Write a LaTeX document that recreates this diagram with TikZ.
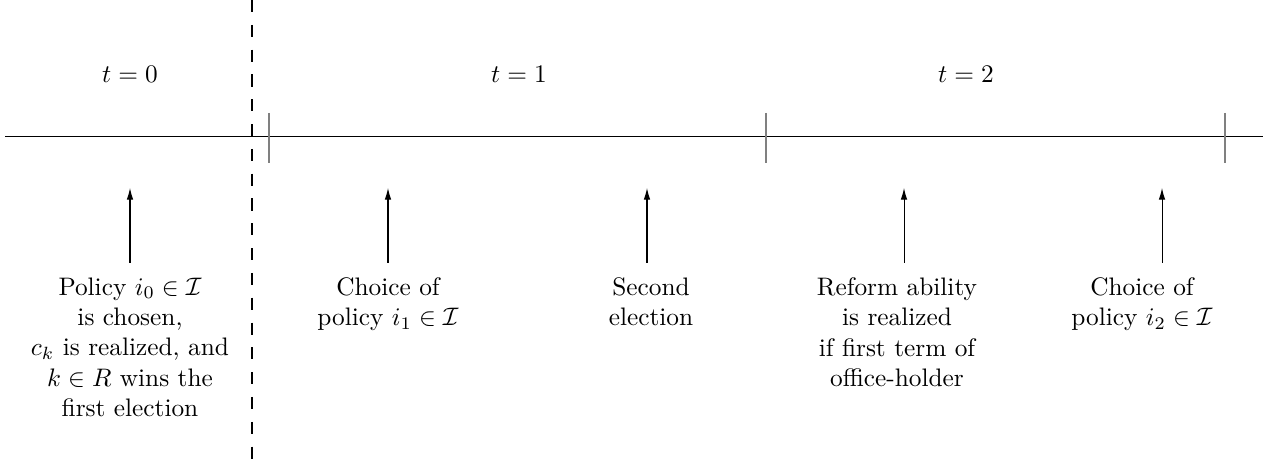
\documentclass[tikz,border=0pt]{standalone}
\usetikzlibrary{arrows.meta}
\begin{document}
\begin{tikzpicture}[x=0.395pt,y=-0.395pt,
  axis/.style={line width=0.4pt,black},
  tickmark/.style={line width=0.6pt,gray},
  divider/.style={line width=0.4pt,dash pattern=on 4.8pt off 5pt},
  arr/.style={line width=0.4pt,-{Latex[length=4.6pt,width=2.6pt]}},
  lbl/.style={align=center,inner sep=0pt,anchor=north},
  period/.style={inner sep=0pt,anchor=base}]
\useasboundingbox (0,0) rectangle (1272,469);
% main time line
\coordinate (L) at (5,137);
\coordinate (R) at (1263,137);
\draw[axis] (L) -- (R);
% ticks
\coordinate (t1a) at (269,113); \coordinate (t1b) at (269,163);
\coordinate (t2a) at (766,113); \coordinate (t2b) at (766,163);
\coordinate (t3a) at (1225,113); \coordinate (t3b) at (1225,163);
\draw[tickmark] (t1a) -- (t1b);
\draw[tickmark] (t2a) -- (t2b);
\draw[tickmark] (t3a) -- (t3b);
% dashed divider
\coordinate (dtop) at (252,0);
\coordinate (dbot) at (252,469);
\draw[divider] (dtop) -- (dbot);
% period labels
\node[period] (p0) at (130,83) {$t=0$};
\node[period] (p1) at (519,83) {$t=1$};
\node[period] (p2) at (966,83) {$t=2$};
% arrows
\coordinate (a0s) at (130,263); \coordinate (a0e) at (130,188);
\coordinate (a1s) at (388,263); \coordinate (a1e) at (388,188);
\coordinate (a2s) at (647,263); \coordinate (a2e) at (647,188);
\coordinate (a3s) at (904,263); \coordinate (a3e) at (904,188);
\coordinate (a4s) at (1162,263); \coordinate (a4e) at (1162,188);
\draw[arr] (a0s) -- (a0e);
\draw[arr] (a1s) -- (a1e);
\draw[arr] (a2s) -- (a2e);
\draw[arr] (a3s) -- (a3e);
\draw[arr] (a4s) -- (a4e);
% event labels
\node[lbl] (e0) at (130,277) {Policy $i_0\in\mathcal{I}$\\ is chosen,\\ $c_k$ is realized, and\\ $k\in R$ wins the\\ first election};
\node[lbl] (e1) at (388,277) {Choice of\\ policy $i_1\in\mathcal{I}$};
\node[lbl] (e2) at (651,277) {Second\\ election};
\node[lbl] (e3) at (897,277) {Reform ability\\ is realized\\ if first term of\\ office-holder};
\node[lbl] (e4) at (1142,277) {Choice of\\ policy $i_2\in\mathcal{I}$};
\end{tikzpicture}
\end{document}
